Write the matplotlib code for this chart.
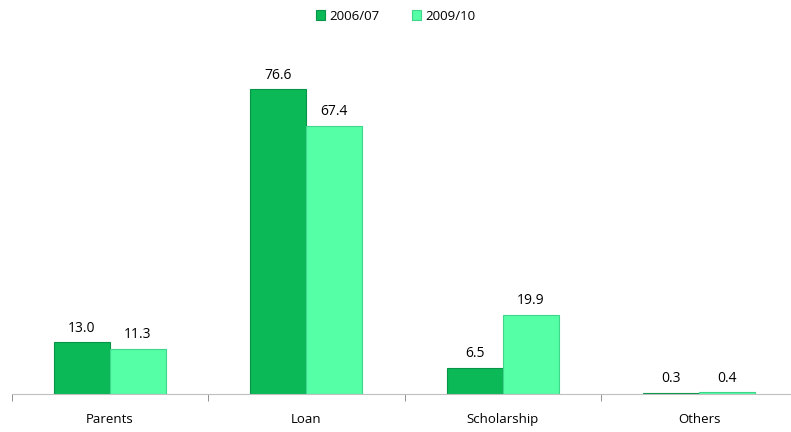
import numpy as np
import matplotlib
matplotlib.use("Agg")
import matplotlib.pyplot as plt

# data
categories = ["Parents", "Loan", "Scholarship", "Others"]
series_names = ["2006/07", "2009/10"]
vals_0607 = [13.0, 76.6, 6.5, 0.3]
vals_0910 = [11.3, 67.4, 19.9, 0.4]

plt.rcParams["font.family"] = ["Open Sans", "DejaVu Sans"]

fig = plt.figure(figsize=(7.91, 4.32), dpi=100)
ax = fig.add_axes([11.5 / 791, 38 / 432, 786 / 791, 338 / 432])

x = np.arange(len(categories))
w = 0.285
b1 = ax.bar(x - w / 2, vals_0607, w, color="#0BBA57", edgecolor="#079447",
            linewidth=0.8, label=series_names[0])
b2 = ax.bar(x + w / 2, vals_0910, w, color="#55FFA6", edgecolor="#3ED68A",
            linewidth=0.8, label=series_names[1])

for bars in (b1, b2):
    for r in bars:
        ax.text(r.get_x() + r.get_width() / 2, r.get_height() + 1.7,
                f"{r.get_height():.1f}", ha="center", va="bottom", fontsize=10)

ax.set_xlim(-0.5, len(categories) - 0.5)
ax.set_ylim(0, 85)
ax.set_yticks([])
for s in ["top", "right", "left"]:
    ax.spines[s].set_visible(False)
ax.spines["bottom"].set_color("#BFBFBF")

ax.set_xticks(x)
ax.set_xticklabels(categories, fontsize=9.5)
ax.tick_params(axis="x", length=0, pad=14)
ax.set_xticks(np.arange(len(categories) + 1) - 0.5, minor=True)
ax.tick_params(axis="x", which="minor", length=5, color="#808080")

fig.legend(loc="upper center", bbox_to_anchor=(0.5, 1.005), ncol=2, frameon=False,
           fontsize=9.5, handlelength=0.7, handleheight=0.7, columnspacing=2.5,
           handletextpad=0.3)

fig.savefig("out.png", dpi=100)
